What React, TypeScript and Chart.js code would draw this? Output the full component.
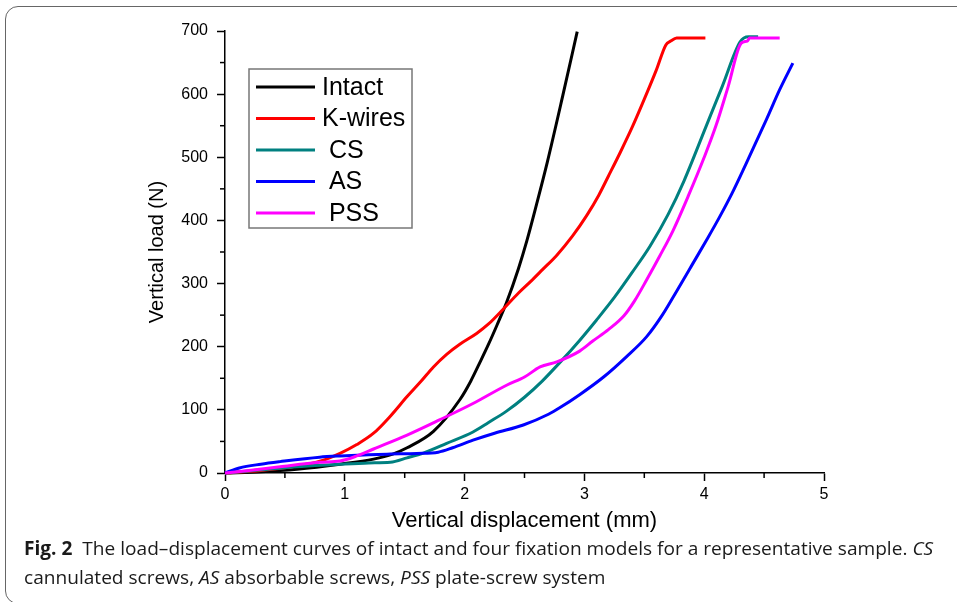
import React, { useEffect, useRef } from "react";
import { Chart, registerables } from "chart.js";

Chart.register(...registerables);

// ---------- data ----------
const seriesNames = ["Intact", "K-wires", "CS", "AS", "PSS"];
const legendLabels = ["Intact", "K-wires", " CS", " AS", " PSS"];
const seriesColors = ["#000000", "#ff0000", "#008080", "#0000ff", "#ff00ff"];

const xTickValues = [0, 1, 2, 3, 4, 5];
const yTickValues = [0, 100, 200, 300, 400, 500, 600, 700];

const xTitle = "Vertical displacement (mm)";
const yTitle = "Vertical load (N)";

const intactData: [number, number][] = [
  [0, 0], [0.3, 2], [0.6, 6], [0.96, 14], [1.24, 22], [1.4, 30], [1.52, 40],
  [1.74, 66], [1.96, 116], [2.05, 145], [2.13, 176], [2.2, 204], [2.27, 234],
  [2.35, 270], [2.45, 324], [2.52, 368], [2.6, 425], [2.69, 492], [2.82, 598],
  [2.94, 699],
];

const kwiresData: [number, number][] = [
  [0, 0], [0.3, 4], [0.6, 11], [0.8, 19], [0.96, 31], [1.1, 45], [1.24, 63],
  [1.38, 90], [1.52, 121], [1.64, 146], [1.74, 168], [1.85, 188], [1.96, 204],
  [2.1, 221], [2.2, 236], [2.32, 259], [2.45, 285], [2.55, 303], [2.65, 322],
  [2.77, 345], [2.9, 375], [3.02, 408], [3.12, 440], [3.2, 470], [3.3, 508],
  [3.4, 548], [3.5, 592], [3.6, 638], [3.68, 678], [3.72, 684], [3.77, 689],
  [4.01, 689],
];

const csData: [number, number][] = [
  [0, 0], [0.3, 5], [0.6, 10], [0.96, 14], [1.2, 16], [1.38, 17], [1.52, 24],
  [1.66, 32], [1.85, 47], [2.07, 65], [2.2, 80], [2.35, 98], [2.5, 120],
  [2.65, 146], [2.8, 176], [2.96, 210], [3.1, 242], [3.25, 278], [3.4, 318],
  [3.55, 360], [3.7, 410], [3.83, 462], [4.02, 551], [4.15, 612], [4.3, 683],
  [4.37, 691], [4.45, 691],
];

const asData: [number, number][] = [
  [0, 0], [0.12, 8], [0.3, 14], [0.46, 18], [0.79, 25], [0.96, 27], [1.2, 29],
  [1.38, 30], [1.6, 31], [1.78, 33], [1.9, 40], [2.07, 52], [2.25, 63],
  [2.49, 76], [2.7, 93], [2.8, 104], [2.96, 124], [3.16, 152], [3.35, 184],
  [3.52, 216], [3.65, 250], [3.77, 288], [3.9, 330], [4.02, 369], [4.13, 406],
  [4.23, 442], [4.35, 490], [4.52, 560], [4.63, 607], [4.74, 649],
];

const pssData: [number, number][] = [
  [0, 0], [0.2, 4], [0.46, 10], [0.79, 17], [0.96, 19], [1.1, 27], [1.24, 38],
  [1.52, 60], [1.79, 84], [2.07, 110], [2.35, 139], [2.5, 152], [2.63, 168],
  [2.77, 176], [2.96, 193], [3.07, 209], [3.2, 227], [3.33, 249], [3.42, 273],
  [3.52, 306], [3.63, 344], [3.74, 384], [3.87, 440], [4.0, 500], [4.1, 551],
  [4.2, 612], [4.31, 681], [4.36, 684], [4.38, 689], [4.63, 689],
];

const seriesData = [intactData, kwiresData, csData, asData, pssData];

const FONT = "'Liberation Sans', Arial, sans-serif";

// ---------- plugins ----------
const minorTicksPlugin = {
  id: "minorTicks",
  afterDraw(chart: any) {
    const ctx = chart.ctx;
    ctx.save();
    ctx.strokeStyle = "#000";
    ctx.lineWidth = 1.5;
    const len = 5;
    const xs = chart.scales.x;
    const ys = chart.scales.y;
    const xt = xs.ticks.map((t: any) => t.value);
    for (let i = 0; i < xt.length - 1; i++) {
      const px = xs.getPixelForValue((xt[i] + xt[i + 1]) / 2);
      ctx.beginPath();
      ctx.moveTo(px, xs.top);
      ctx.lineTo(px, xs.top + len);
      ctx.stroke();
    }
    const yt = ys.ticks.map((t: any) => t.value);
    for (let i = 0; i < yt.length - 1; i++) {
      const py = ys.getPixelForValue((yt[i] + yt[i + 1]) / 2);
      ctx.beginPath();
      ctx.moveTo(ys.right, py);
      ctx.lineTo(ys.right - len, py);
      ctx.stroke();
    }
    ctx.restore();
  },
};

const legendBoxPlugin = {
  id: "legendBox",
  afterDraw(chart: any) {
    const ctx = chart.ctx;
    const ca = chart.chartArea;
    const boxL = ca.left + 24;
    const boxT = ca.top + 38;
    const boxW = 163;
    const boxH = 159;
    const rowH = 31.5;
    const firstRow = boxT + 18;
    ctx.save();
    ctx.fillStyle = "#ffffff";
    ctx.fillRect(boxL, boxT, boxW, boxH);
    ctx.strokeStyle = "#777";
    ctx.lineWidth = 1.5;
    ctx.strokeRect(boxL, boxT, boxW, boxH);
    ctx.font = `25px ${FONT}`;
    ctx.textBaseline = "middle";
    ctx.textAlign = "left";
    chart.data.datasets.forEach((ds: any, i: number) => {
      const y = firstRow + i * rowH;
      ctx.strokeStyle = ds.borderColor;
      ctx.lineWidth = 3;
      ctx.beginPath();
      ctx.moveTo(boxL + 7, y);
      ctx.lineTo(boxL + 66, y);
      ctx.stroke();
      ctx.fillStyle = "#000";
      ctx.fillText(ds.legendText, boxL + 73, y + 1);
    });
    ctx.restore();
  },
};

function LoadChart() {
  const ref = useRef<HTMLCanvasElement | null>(null);
  useEffect(() => {
    if (!ref.current) return;
    const datasets = seriesNames.map((name, i) => ({
      label: name,
      legendText: legendLabels[i],
      data: seriesData[i].map(([x, y]) => ({ x, y })),
      borderColor: seriesColors[i],
      backgroundColor: seriesColors[i],
      borderWidth: 3,
      pointRadius: 0,
      fill: false,
      cubicInterpolationMode: "monotone" as const,
      order: seriesNames.length - i,
      clip: 6,
    }));
    const chart = new Chart(ref.current, {
      type: "line",
      data: { datasets },
      options: {
        responsive: false,
        animation: false,
        devicePixelRatio: 1,
        layout: { padding: { left: 0, right: 133, top: 31, bottom: 0 } },
        plugins: { legend: { display: false }, tooltip: { enabled: false } },
        scales: {
          x: {
            type: "linear",
            min: xTickValues[0],
            max: xTickValues[xTickValues.length - 1],
            afterFit: (s: any) => { s.height = 67; },
            afterBuildTicks: (s: any) => { s.ticks = xTickValues.map((v) => ({ value: v })); },
            ticks: { color: "#000", font: { family: FONT, size: 16 }, padding: 4, maxRotation: 0, autoSkip: false },
            grid: { drawOnChartArea: false, drawTicks: true, tickLength: 8, tickColor: "#000", tickWidth: 1.5 },
            border: { display: true, color: "#000", width: 1.5 },
            title: { display: true, text: xTitle, color: "#000", font: { family: FONT, size: 22 }, padding: { top: 0, bottom: 6 } },
          },
          y: {
            type: "linear",
            min: yTickValues[0],
            max: yTickValues[yTickValues.length - 1],
            afterFit: (s: any) => { s.width = 225; },
            afterBuildTicks: (s: any) => { s.ticks = yTickValues.map((v) => ({ value: v })); },
            ticks: { color: "#000", font: { family: FONT, size: 16 }, padding: 9, autoSkip: false },
            grid: { drawOnChartArea: false, drawTicks: true, tickLength: 8, tickColor: "#000", tickWidth: 1.5 },
            border: { display: true, color: "#000", width: 1.5 },
            title: { display: true, text: yTitle, color: "#000", font: { family: FONT, size: 20 }, padding: { top: 145, bottom: 0 } },
          },
        },
      } as any,
      plugins: [minorTicksPlugin, legendBoxPlugin],
    });
    return () => chart.destroy();
  }, []);
  return <canvas ref={ref} width={957} height={540} style={{ position: "absolute", left: 0, top: 0, width: 957, height: 540 }} />;
}

export default function App() {
  return (
    <div style={{ position: "absolute", left: 0, top: 0, width: 957, height: 602, overflow: "hidden", background: "#fff" }}>
      <div style={{ position: "absolute", left: 5, top: 6, width: 1000, height: 598, border: "1.5px solid #666", borderRadius: 13, boxSizing: "border-box" }} />
      <LoadChart />
      <div
        style={{
          position: "absolute", left: 24, top: 534, whiteSpace: "nowrap",
          fontFamily: "'Open Sans', sans-serif", fontSize: 19, lineHeight: "29px", color: "#1a1a1a",
          transform: "scaleX(1.005)", transformOrigin: "left top",
        }}
      >
        <b>Fig. 2</b>&nbsp; The load–displacement curves of intact and four fixation models for a representative sample. <i>CS</i>
        <br />
        cannulated screws, <i>AS</i> absorbable screws, <i>PSS</i> plate-screw system
      </div>
    </div>
  );
}
